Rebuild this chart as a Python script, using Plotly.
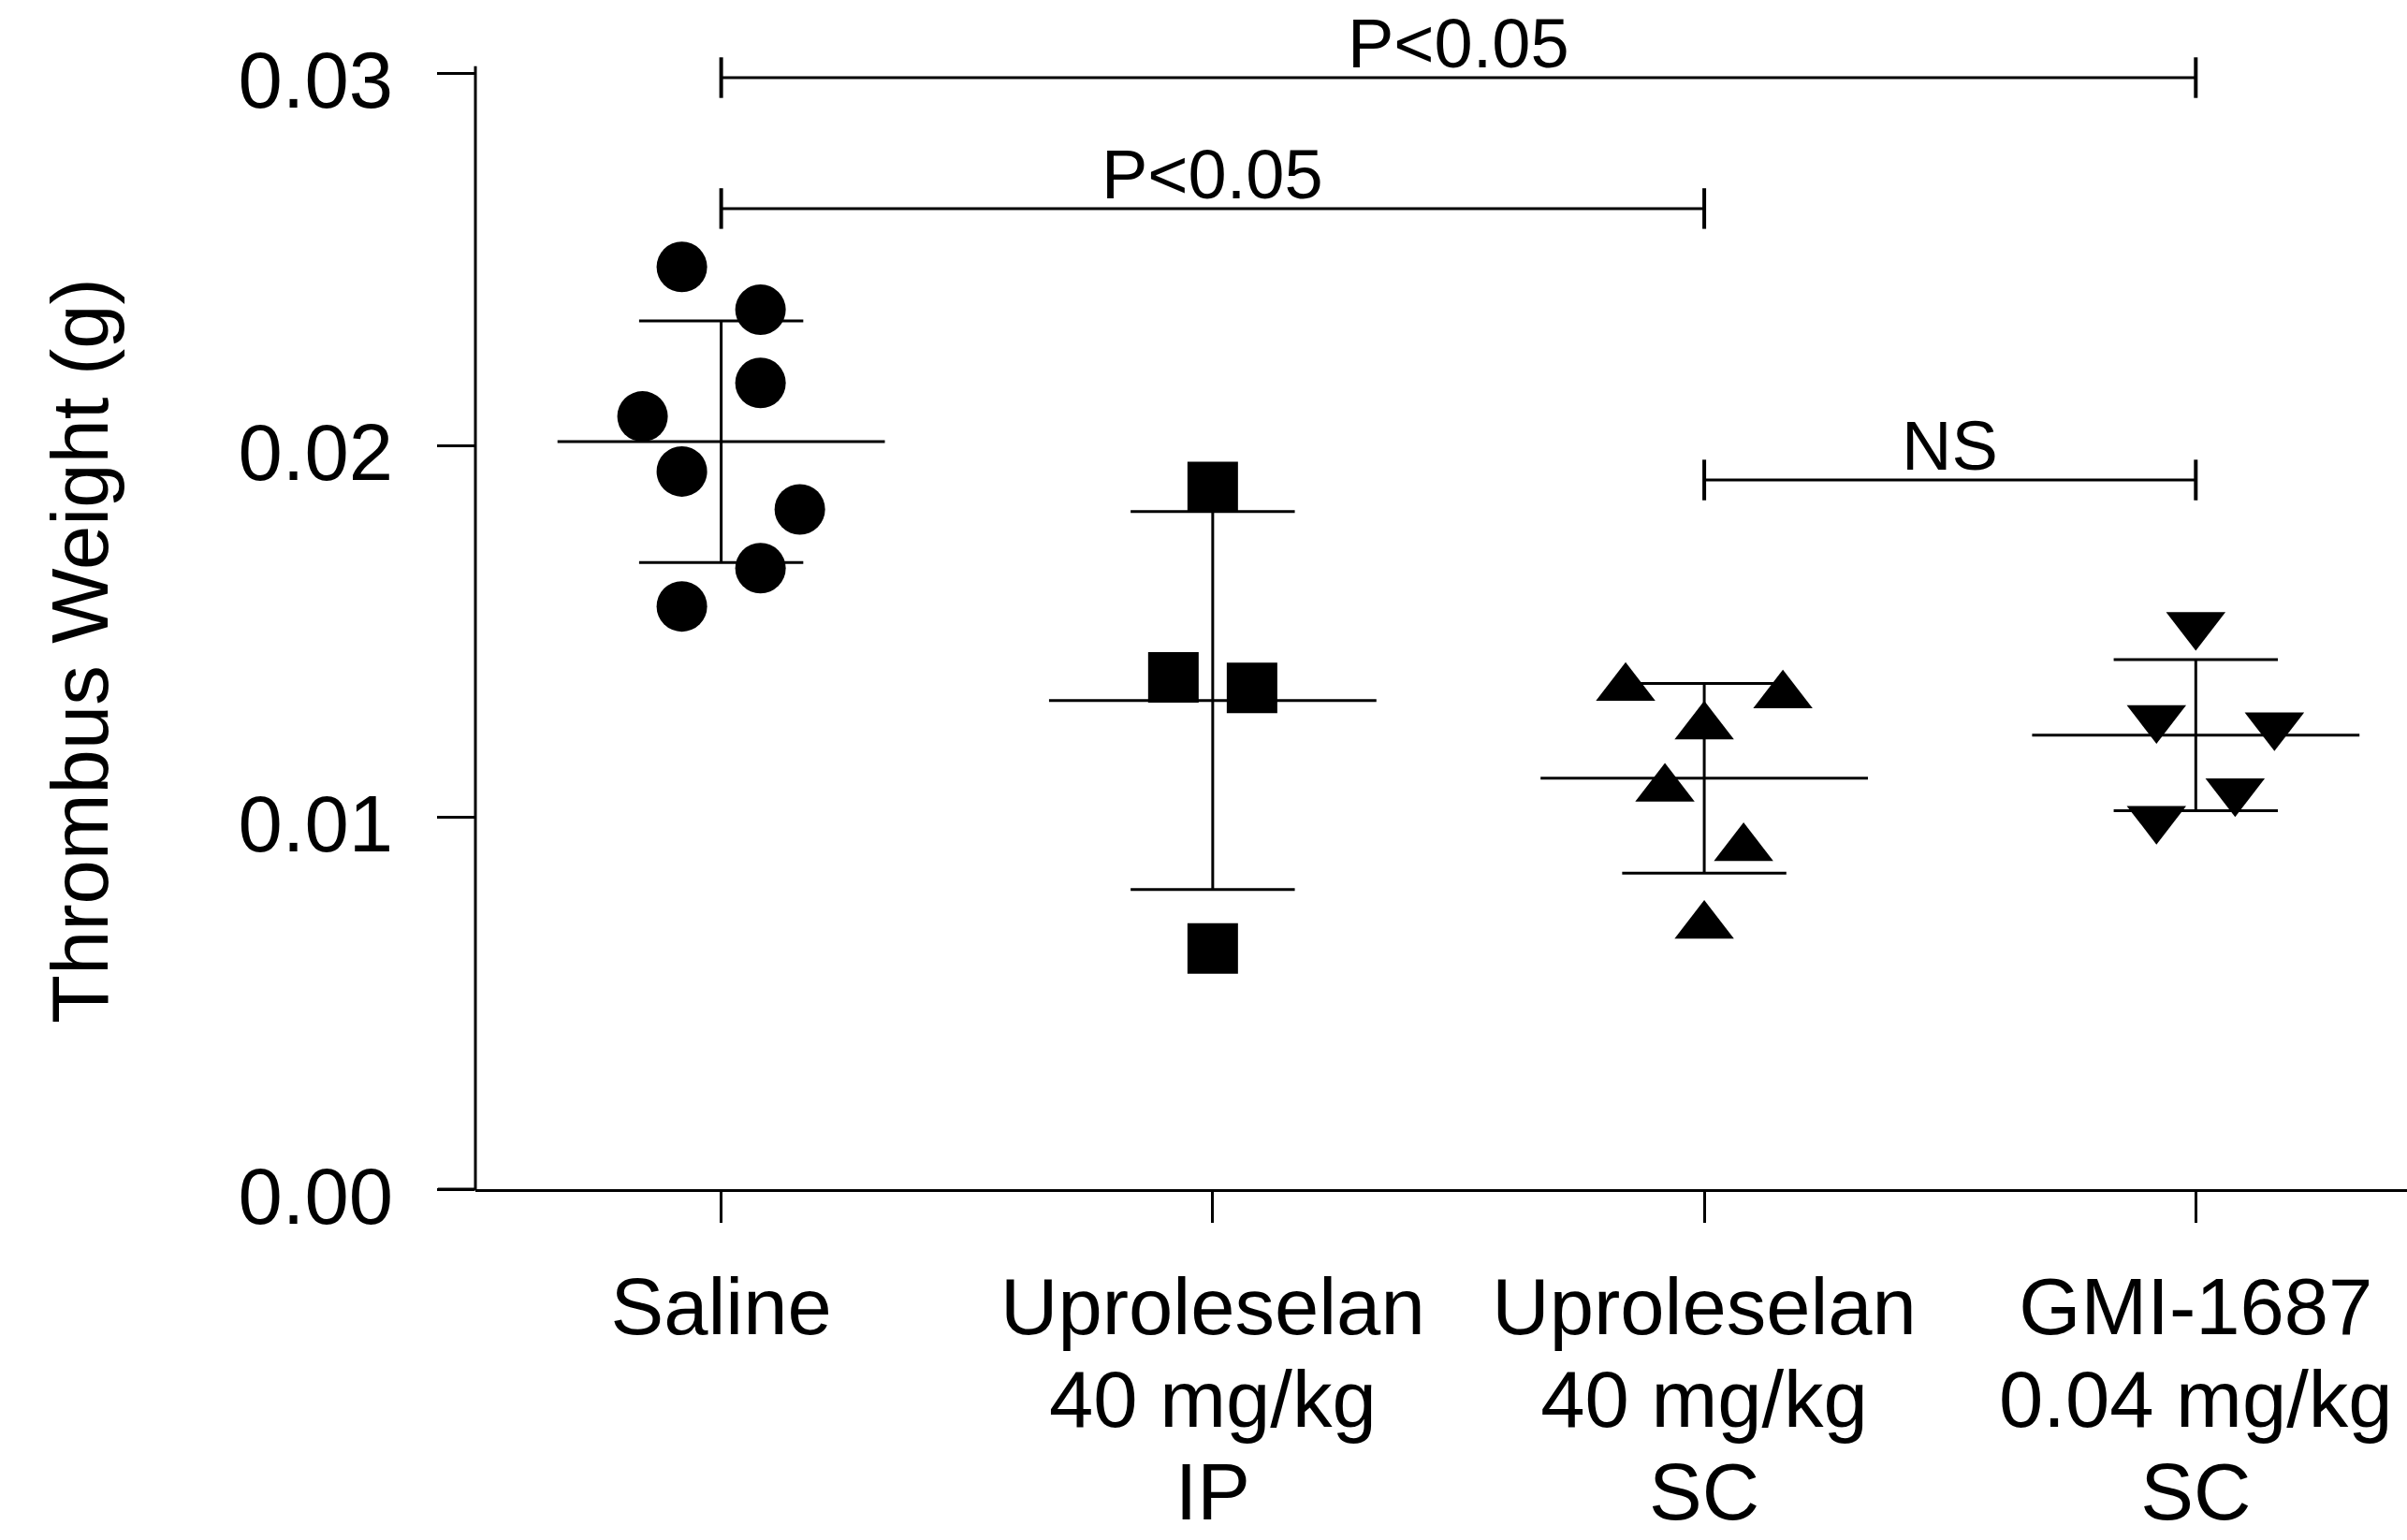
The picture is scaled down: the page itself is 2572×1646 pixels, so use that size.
import plotly.graph_objects as go

# ---------------- data ----------------
category_lines = [["Saline"],
                  ["Uproleselan", "40 mg/kg", "IP"],
                  ["Uproleselan", "40 mg/kg", "SC"],
                  ["GMI-1687", "0.04 mg/kg", "SC"]]

saline = [0.0248, 0.02365, 0.02168, 0.02078, 0.0193, 0.01828, 0.0167, 0.01567]
saline_jitter = [-0.08, 0.08, 0.08, -0.16, -0.08, 0.16, 0.08, -0.08]

upro_ip = [0.01888, 0.01376, 0.01348, 0.00647]
upro_ip_jitter = [0.0, -0.08, 0.08, 0.0]

upro_sc = [0.01348, 0.01328, 0.01244, 0.01077, 0.00917, 0.00708]
upro_sc_jitter = [-0.16, 0.16, 0.0, -0.08, 0.08, 0.0]

gmi_sc = [0.01517, 0.01267, 0.01247, 0.0107, 0.00996]
gmi_sc_jitter = [0.0, -0.08, 0.16, 0.08, -0.08]

group_means = [0.0201, 0.01314, 0.01105, 0.01221]
group_sds = [0.00325, 0.00508, 0.00255, 0.00203]

# significance brackets: (from group, to group, height, label)
bracket_from = [0, 0, 2]
bracket_to = [3, 2, 3]
bracket_y = [0.02989, 0.02637, 0.01907]
bracket_text = ["P<0.05", "P<0.05", "NS"]

y_tickvals = [0.0, 0.01, 0.02, 0.03]
y_ticktext = ["0.00", "0.01", "0.02", "0.03"]

# ---------------- styles ----------------
FONT = "Liberation Sans, Arial, Helvetica, sans-serif"
BLACK = "#000000"
symbols = ["circle", "square", "triangle-up", "triangle-down"]
marker_sizes = [54, 54, 55, 55]
MEAN_HALF = 0.333
CAP_HALF = 0.167
BR_TICK = 0.000546
XLABEL_GLYPH = 85   # glyph size of category labels
XLABEL_BASE = 76    # sets the line pitch (1.3 x this)

groups = [saline, upro_ip, upro_sc, gmi_sc]
jitters = [saline_jitter, upro_ip_jitter, upro_sc_jitter, gmi_sc_jitter]

categories = ["<br>".join(f"<span style='font-size:{XLABEL_GLYPH}px'>{ln}</span>" for ln in lines)
              for lines in category_lines]

fig = go.Figure()

# points
for i, (vals, jit) in enumerate(zip(groups, jitters)):
    fig.add_trace(go.Scatter(
        x=[i + j for j in jit], y=vals, mode="markers",
        marker=dict(symbol=symbols[i], size=marker_sizes[i], color=BLACK,
                    line=dict(width=0)),
        showlegend=False, hoverinfo="y", cliponaxis=False))

# mean and SD lines
lx, ly = [], []
for i, (m, s) in enumerate(zip(group_means, group_sds)):
    lx += [i - MEAN_HALF, i + MEAN_HALF, None]
    ly += [m, m, None]
    lx += [i, i, None]
    ly += [m - s, m + s, None]
    lx += [i - CAP_HALF, i + CAP_HALF, None]
    ly += [m + s, m + s, None]
    lx += [i - CAP_HALF, i + CAP_HALF, None]
    ly += [m - s, m - s, None]
fig.add_trace(go.Scatter(x=lx, y=ly, mode="lines",
                         line=dict(color=BLACK, width=3),
                         showlegend=False, hoverinfo="skip"))

shapes = []
annotations = []
# brackets
for a, b, yb, txt in zip(bracket_from, bracket_to, bracket_y, bracket_text):
    shapes.append(dict(type="line", xref="x", yref="y", x0=a, x1=b, y0=yb, y1=yb,
                       line=dict(color=BLACK, width=3)))
    for xe in (a, b):
        shapes.append(dict(type="line", xref="x", yref="y", x0=xe, x1=xe,
                           y0=yb - BR_TICK, y1=yb + BR_TICK,
                           line=dict(color=BLACK, width=4)))
    annotations.append(dict(x=(a + b) / 2, y=yb, xref="x", yref="y",
                            text=txt, showarrow=False, yanchor="bottom",
                            xanchor="center", yshift=-7,
                            font=dict(family=FONT, size=74, color=BLACK)))

# y-axis line (stops just above 0.03) and x-axis extension to the left
shapes.append(dict(type="line", xref="paper", yref="y", x0=0, x1=0,
                   y0=0, y1=0.0302, line=dict(color=BLACK, width=3)))
shapes.append(dict(type="line", xref="paper", yref="paper", x0=-40 / 2064, x1=0,
                   y0=0, y1=0, line=dict(color=BLACK, width=3)))

# y-axis title
annotations.append(dict(x=-0.2047, y=0.4597, xref="paper", yref="paper",
                        text="Thrombus Weight (g)", textangle=-90,
                        showarrow=False, xanchor="center", yanchor="middle",
                        font=dict(family=FONT, size=85, color=BLACK)))

fig.update_layout(
    width=2572, height=1646,
    margin=dict(l=508, r=0, t=19, b=375, pad=0, autoexpand=False),
    paper_bgcolor="white", plot_bgcolor="white",
    font=dict(family=FONT, color=BLACK),
    shapes=shapes, annotations=annotations,
    xaxis=dict(range=[-0.5, 3.4297], tickmode="array",
               tickvals=list(range(len(categories))), ticktext=categories,
               ticks="outside", ticklen=33, tickwidth=3, tickcolor=BLACK,
               showline=True, linewidth=3, linecolor=BLACK,
               showgrid=False, zeroline=False, automargin=False,
               tickfont=dict(family=FONT, size=XLABEL_BASE, color=BLACK),
               ticklabelstandoff=28),
    yaxis=dict(range=[0, 0.0315], tickmode="array",
               tickvals=y_tickvals, ticktext=y_ticktext,
               ticks="outside", ticklen=40, tickwidth=3, tickcolor=BLACK,
               showline=False, showgrid=False, zeroline=False, automargin=False,
               tickfont=dict(family=FONT, size=85, color=BLACK),
               ticklabelstandoff=30, ticklabelshift=7),
)

fig.write_html("out.html")
